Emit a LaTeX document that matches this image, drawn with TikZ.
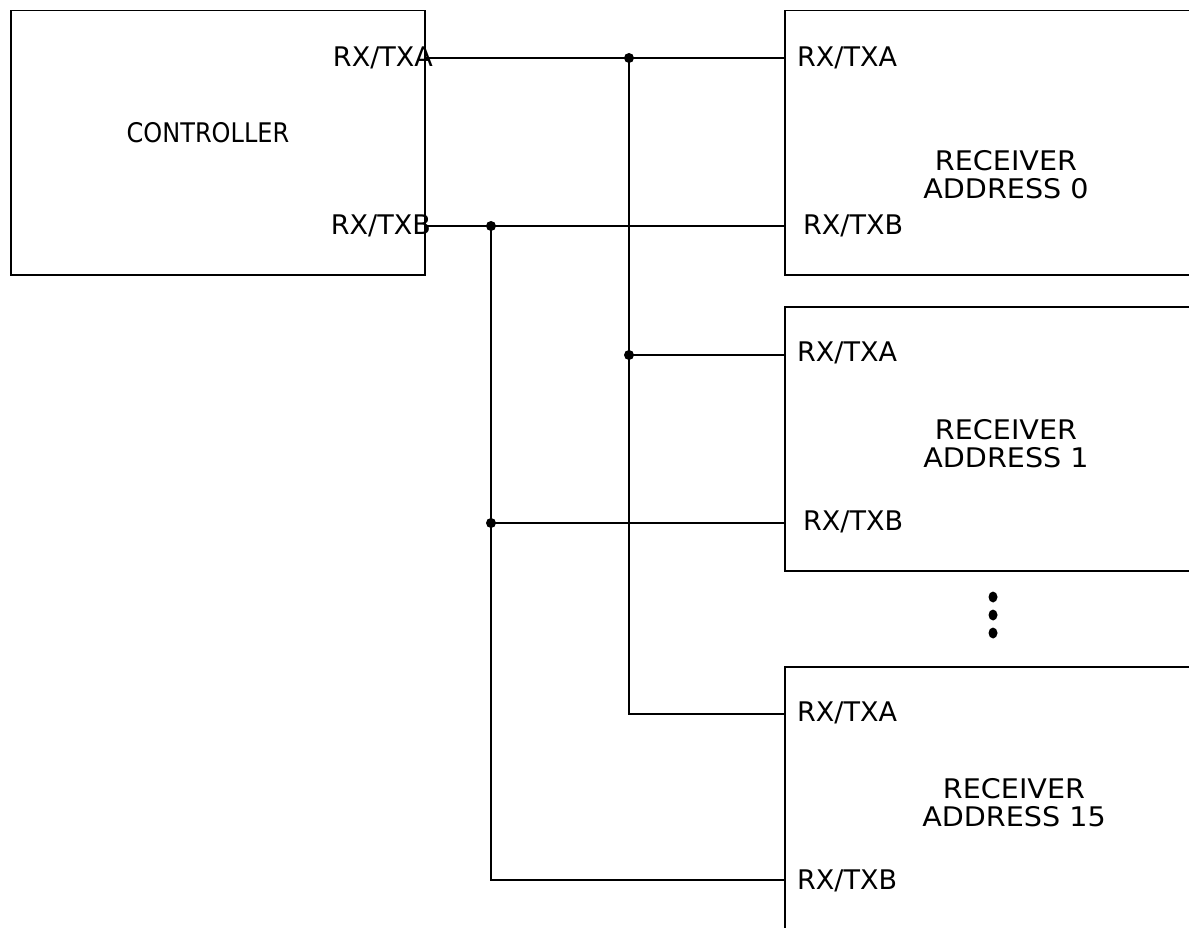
\documentclass[tikz,border=0pt]{standalone}
\usepackage{fontspec}
\setmainfont{DejaVu Sans}
\newcommand{\wtitle}[1]{\scalebox{1.06}[1]{#1}}
\begin{document}
\begin{tikzpicture}[x=1pt,y=-1pt,
  box/.style={draw,line width=1.5pt,rectangle,anchor=north west,inner sep=0pt},
  wire/.style={line width=1.5pt},
  pin/.style={font=\fontsize{27}{29}\selectfont,inner sep=0pt},
  title/.style={font=\fontsize{27}{28}\selectfont,inner sep=0pt,align=center}]
\useasboundingbox (0,0) rectangle (1189,928);
\clip (0,0) rectangle (1189,928);
% boxes
\node[box,minimum width=414pt,minimum height=264pt] (ctrl) at (10,10) {};
\node[box,minimum width=440pt,minimum height=264pt] (r0) at (784,10) {};
\node[box,minimum width=440pt,minimum height=264pt] (r1) at (784,306) {};
\node[box,minimum width=440pt,minimum height=300pt] (r15) at (784,666) {};
% titles
\node[title] (tctrl) at (208,133) {\scalebox{0.89}[1]{CONTROLLER}};
\node[title] (t0) at (1006,175) {\wtitle{RECEIVER}\\\wtitle{ADDRESS 0}};
\node[title] (t1) at (1006,444) {\wtitle{RECEIVER}\\\wtitle{ADDRESS 1}};
\node[title] (t15) at (1014,803) {\wtitle{RECEIVER}\\\wtitle{ADDRESS 15}};
% pin labels
\node[pin,anchor=east] (lcA) at (433,58) {RX/TXA};
\node[pin,anchor=east] (lcB) at (431,226) {RX/TXB};
\node[pin,anchor=west] (l0A) at (797,58) {RX/TXA};
\node[pin,anchor=west] (l0B) at (803,226) {RX/TXB};
\node[pin,anchor=west] (l1A) at (797,353) {RX/TXA};
\node[pin,anchor=west] (l1B) at (803,522) {RX/TXB};
\node[pin,anchor=west] (l15A) at (797,713) {RX/TXA};
\node[pin,anchor=west] (l15B) at (797,881) {RX/TXB};
% pin coordinates
\coordinate (cA) at (424,58);
\coordinate (cB) at (424,226);
\coordinate (p0A) at (784,58);
\coordinate (p0B) at (784,226);
\coordinate (p1A) at (784,355);
\coordinate (p1B) at (784,523);
\coordinate (p15A) at (784,714);
\coordinate (p15B) at (784,880);
% junctions
\coordinate (jA0) at (629,58);
\coordinate (jA1) at (629,355);
\coordinate (kA) at (629,714);
\coordinate (jB0) at (491,226);
\coordinate (jB1) at (491,523);
\coordinate (kB) at (491,880);
% wires
\draw[wire] (cA) -- (jA0) -- (p0A);
\draw[wire] (jA0) -- (jA1) -- (kA) -- (p15A);
\draw[wire] (jA1) -- (p1A);
\draw[wire] (cB) -- (jB0) -- (p0B);
\draw[wire] (jB0) -- (jB1) -- (kB) -- (p15B);
\draw[wire] (jB1) -- (p1B);
\foreach \j in {jA0,jA1,jB0,jB1} \fill (\j) circle (5pt);
% ellipsis
\coordinate (e1) at (993,597);
\coordinate (e2) at (993,615);
\coordinate (e3) at (993,633);
\foreach \e in {e1,e2,e3} \fill (\e) ellipse (4.5pt and 5.5pt);
\end{tikzpicture}
\end{document}
